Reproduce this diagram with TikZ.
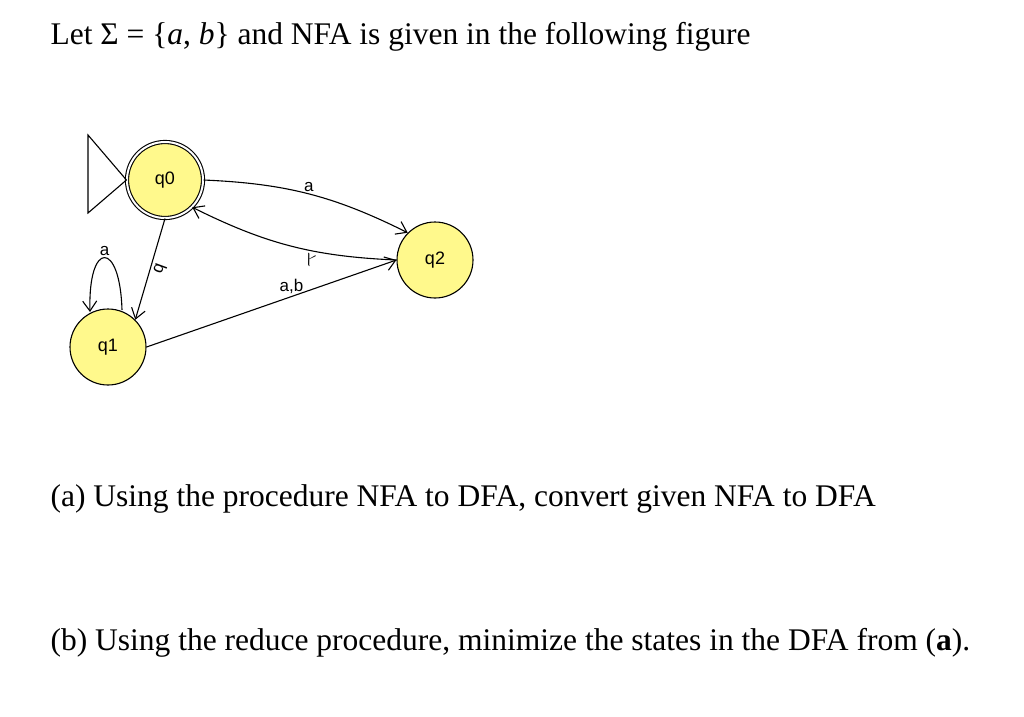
\documentclass[tikz,border=0pt]{standalone}
\usepackage{fontspec}
\setmainfont{Liberation Serif}
\newfontfamily\jsans{Liberation Sans}
\usetikzlibrary{arrows.meta}
\tikzset{
  state/.style={draw, circle, fill=yellow!45, minimum size=76pt, inner sep=0pt, font=\jsans\fontsize{18}{18}\selectfont},
  lbl/.style={font=\jsans\fontsize{17}{17}\selectfont, inner sep=2pt},
  txt/.style={anchor=west, font=\fontsize{31.5}{34}\selectfont, inner sep=0pt}
}
\begin{document}
\begin{tikzpicture}[x=1pt, y=-1pt, >={Straight Barb[length=10pt, width=14pt]}, line width=1.1pt]
\useasboundingbox (0,0) rectangle (1024,716);

\node[txt] (title) at (50,37) {Let Σ = \{\textit{a}, \textit{b}\} and NFA is given in the following figure};
\node[txt] (parta) at (50,499) {(a) Using the procedure NFA to DFA, convert given NFA to DFA};
\node[txt] (partb) at (50,643) {(b) Using the reduce procedure, minimize the states in the DFA from (\textbf{a}).};

% states
\node[state, double, double distance=2pt] at (165,180) (q0) {q0};
\node[state] at (108,347) (q1) {q1};
\node[state] at (435,260) (q2) {q2};

% start arrow
\draw (q0.west) -- (88,135) -- (88,213) -- cycle;

% transitions
\draw[->] (q0.east) to[bend left=12] node[lbl, above, pos=0.5] {a} (q2.north west);
\draw[->] (q2.west) to[bend left=12] node[lbl, below, pos=0.4] {\rotatebox{160}{$\lambda$}} (q0.south east);
\draw[->] (q0.south) -- node[lbl, right] {\rotatebox{-110}{b}} (q1.north east);
\coordinate (l1) at (122,310);
\coordinate (l2) at (90,312);
\draw[->] (l1) .. controls (120,240) and (88,240) .. node[lbl, above] {a} (l2);
\draw[->] (q1.east) -- node[lbl, above, pos=0.58] {a,b} (q2.west);
\end{tikzpicture}
\end{document}
